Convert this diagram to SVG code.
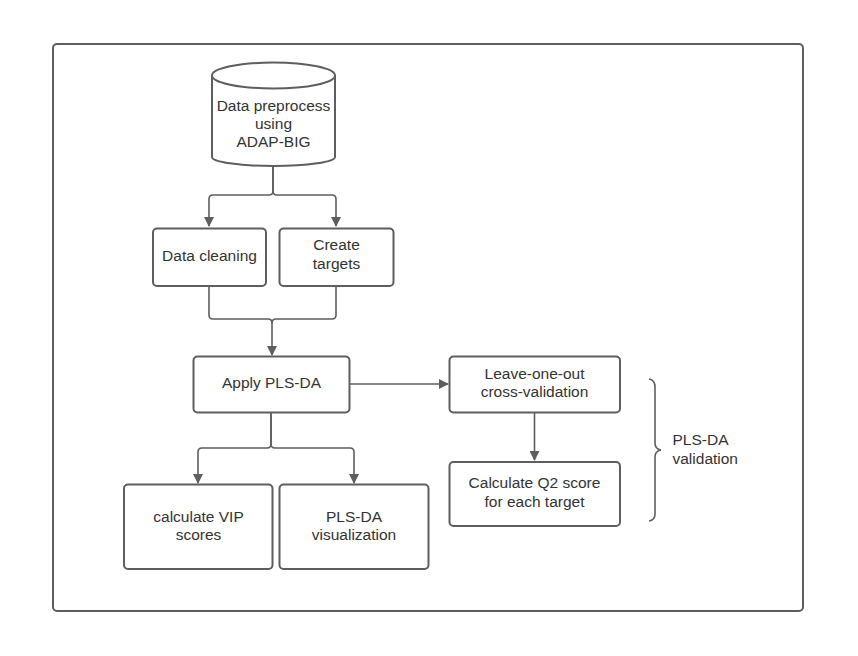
<svg xmlns="http://www.w3.org/2000/svg" width="858" height="656" viewBox="0 0 858 656">
<defs>
<style>
.box{fill:#fff;stroke:#5e5e5e;stroke-width:2}
.ln{fill:none;stroke:#5e5e5e;stroke-width:1.6}
.t{font-family:"Liberation Sans",Arial,sans-serif;font-size:15.5px;fill:#333;text-anchor:middle}
.tl{font-family:"Liberation Sans",Arial,sans-serif;font-size:15.5px;fill:#333;text-anchor:start}
</style>
<marker id="ah" viewBox="0 0 10 10" refX="9" refY="5" markerWidth="10" markerHeight="10" markerUnits="userSpaceOnUse" orient="auto">
<path d="M0,0 L10,5 L0,10 Z" fill="#5e5e5e"/>
</marker>
</defs>
<rect width="858" height="656" fill="#fff"/>
<rect x="53" y="44" width="750" height="567" rx="4" fill="#fff" stroke="#5e5e5e" stroke-width="2"/>

<g id="connectors">
<path class="ln" d="M273,166 V191 Q273,195 269,195 H213 Q209,195 209,199 V226" marker-end="url(#ah)"/>
<path class="ln" d="M273,166 V191 Q273,195 277,195 H332 Q336,195 336,199 V226" marker-end="url(#ah)"/>
<path class="ln" d="M209,286 V315 Q209,319 213,319 H268 Q272,319 272,323 V355" marker-end="url(#ah)"/>
<path class="ln" d="M336,286 V315 Q336,319 332,319 H276 Q272,319 272,323"/>
<path class="ln" d="M350,384 H448" marker-end="url(#ah)"/>
<path class="ln" d="M271,413 V444 Q271,448 267,448 H202 Q198,448 198,452 V483" marker-end="url(#ah)"/>
<path class="ln" d="M271,413 V444 Q271,448 275,448 H350 Q354,448 354,452 V483" marker-end="url(#ah)"/>
<path class="ln" d="M534.5,413 V460" marker-end="url(#ah)"/>
<path class="ln" stroke-width="2" d="M649,379 Q655,380 655,387 V443 Q655,449 661,450 Q655,451 655,457 V514 Q655,520 649,521"/>
</g>

<g id="n-cylinder">
<path class="box" d="M212,75.5 V157 A61.5,9 0 0 0 335,157 V75.5"/>
<ellipse class="box" cx="273.5" cy="75.5" rx="61.5" ry="13"/>
<text class="t" x="273.5" y="110.5">Data preprocess</text>
<text class="t" x="273.5" y="128.5">using</text>
<text class="t" x="273.5" y="147">ADAP-BIG</text>
</g>

<g id="n-clean">
<rect class="box" x="153" y="228.5" width="113" height="57.5" rx="4"/>
<text class="t" x="209.5" y="260.5">Data cleaning</text>
</g>

<g id="n-targets">
<rect class="box" x="279.5" y="228.5" width="114" height="57.5" rx="4"/>
<text class="t" x="336.5" y="249.5">Create</text>
<text class="t" x="336.5" y="268.5">targets</text>
</g>

<g id="n-apply">
<rect class="box" x="193.5" y="356.5" width="156" height="56" rx="4"/>
<text class="t" x="271.5" y="388">Apply PLS-DA</text>
</g>

<g id="n-loo">
<rect class="box" x="449.5" y="356.5" width="170.5" height="56" rx="4"/>
<text class="t" x="534.5" y="378.5">Leave-one-out</text>
<text class="t" x="534.5" y="397">cross-validation</text>
</g>

<g id="n-q2">
<rect class="box" x="449.5" y="462" width="170.5" height="64" rx="4"/>
<text class="t" x="534.5" y="488">Calculate Q2 score</text>
<text class="t" x="534.5" y="506.5">for each target</text>
</g>

<g id="n-vip">
<rect class="box" x="124" y="484.5" width="148.5" height="84.5" rx="4"/>
<text class="t" x="198.5" y="521.5">calculate VIP</text>
<text class="t" x="198.5" y="540">scores</text>
</g>

<g id="n-viz">
<rect class="box" x="279.5" y="484.5" width="149" height="84.5" rx="4"/>
<text class="t" x="354" y="521.5">PLS-DA</text>
<text class="t" x="354" y="540">visualization</text>
</g>

<g id="n-label">
<text class="tl" x="672.5" y="444.5">PLS-DA</text>
<text class="tl" x="672.5" y="463.5">validation</text>
</g>
</svg>
